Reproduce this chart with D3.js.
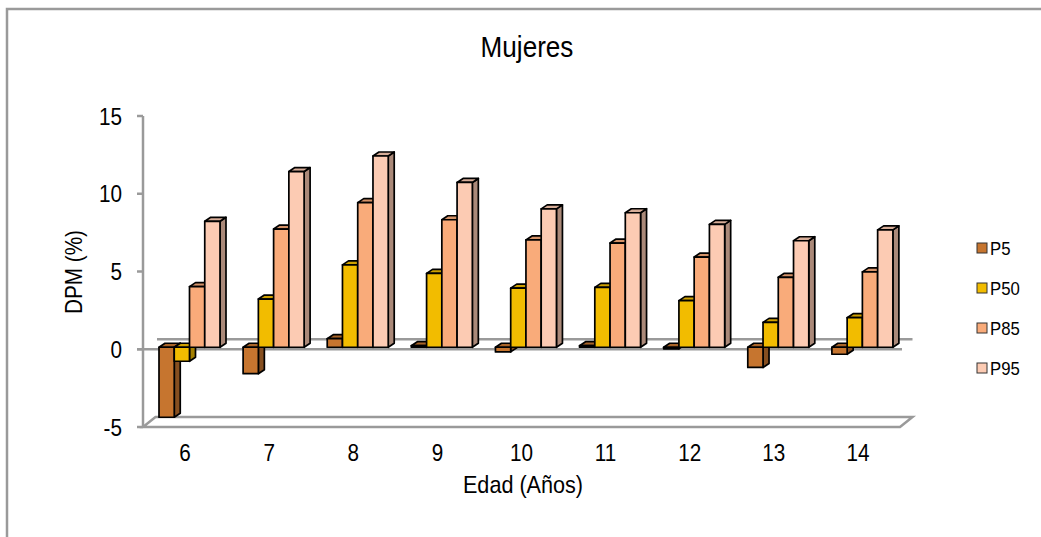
<!DOCTYPE html>
<html>
<head>
<meta charset="utf-8">
<script src="https://cdn.jsdelivr.net/npm/d3@7"></script>
<style>
  html, body { margin: 0; padding: 0; background: #fff; }
  svg { display: block; }
  text { font-family: "Liberation Sans", Arial, sans-serif; fill: #000; }
</style>
</head>
<body>
<script>
// Ages (categories)
const ages = ["6", "7", "8", "9", "10", "11", "12", "13", "14"];
// Percentile series
const seriesNames = ["P5", "P50", "P85", "P95"];
const p5  = [-4.5, -1.7, 0.55, 0.1, -0.3, 0.1, -0.1, -1.3, -0.45];
const p50 = [-0.9, 3.1, 5.3, 4.75, 3.8, 3.85, 3.0, 1.6, 1.9];
const p85 = [3.9, 7.6, 9.3, 8.2, 6.9, 6.7, 5.8, 4.5, 4.85];
const p95 = [8.1, 11.3, 12.3, 10.6, 8.9, 8.65, 7.9, 6.85, 7.55];
const yTicks = [-5, 0, 5, 10, 15];
const colors = ["#C6752F", "#F2BC00", "#F9AB7A", "#FCCBB3"];

const seriesValues = [p5, p50, p85, p95];

const W = 1041, H = 537;
const svg = d3.select("body").append("svg").attr("width", W).attr("height", H);

const GRAY = "#9a9a9a";
const SX = 0.9; // horizontal squeeze of the lettering

function place(sel, x, y, sx = SX) {
  return sel.attr("transform", `translate(${x},${y}) scale(${sx},1)`);
}

// outer frame (top and left edges)
svg.append("path")
  .attr("d", `M7,${H} L7,9 L${W},9`)
  .attr("fill", "none").attr("stroke", GRAY).attr("stroke-width", 2.5);

// scales
const x0 = d3.scaleBand().domain(ages).range([143, 900]).padding(0);
const y = d3.scaleLinear().domain([-5, 15]).range([427, 116]);
const groupOffset = 16, groupWidth = 61;
const x1 = d3.scaleBand().domain(seriesNames).range([0, groupWidth]).padding(0);

// 3D depth of the floor / walls
const DX = 12.5, DY = 10;
// bars stand slightly behind the front plane
const barShiftX = 0, barShiftY = -2;
// depth of each bar
const bdx = 6, bdy = 4;

const left = x0.range()[0], right = x0.range()[1];

// floor at the bottom of the value axis
const yFloor = y(-5);
svg.append("path")
  .attr("d", `M${left},${yFloor} L${right},${yFloor} L${right + DX},${yFloor - DY} L${left + DX},${yFloor - DY} Z`)
  .attr("fill", "none").attr("stroke", GRAY).attr("stroke-width", 2.5);

// zero reference lines (front and back)
const y0 = y(0);
svg.append("line").attr("x1", left - 6).attr("x2", right + 2).attr("y1", y0).attr("y2", y0)
  .attr("stroke", GRAY).attr("stroke-width", 2.5);
svg.append("line").attr("x1", left + 14).attr("x2", right + DX).attr("y1", y0 - DY).attr("y2", y0 - DY)
  .attr("stroke", GRAY).attr("stroke-width", 2.5);

// value axis
svg.append("line").attr("x1", left).attr("x2", left).attr("y1", y(15)).attr("y2", yFloor)
  .attr("stroke", GRAY).attr("stroke-width", 2.5);
const yTickG = svg.append("g");
yTicks.forEach(t => {
  yTickG.append("line").attr("x1", left - 6).attr("x2", left).attr("y1", y(t)).attr("y2", y(t))
    .attr("stroke", GRAY).attr("stroke-width", 2.5);
  place(yTickG.append("text"), 122, y(t) + 8.5)
    .attr("text-anchor", "end").attr("font-size", 23).text(t);
});

// bars
const barsG = svg.append("g");
ages.forEach((age, ci) => {
  seriesNames.forEach((s, si) => {
    const v = seriesValues[si][ci];
    const c = d3.color(colors[si]);
    const front = c.formatHex();
    const top = c.darker(0.45).formatHex();
    const side = c.darker(1.1).formatHex();
    const xa = x0(age) + groupOffset + x1(s) + barShiftX;
    const xb = xa + x1.bandwidth();
    const yTop = Math.min(y(v), y0) + barShiftY;
    const yBot = Math.max(y(v), y0) + barShiftY;
    const g = barsG.append("g").attr("stroke", "#000").attr("stroke-width", 1.7).attr("stroke-linejoin", "round");
    // right side face
    g.append("path")
      .attr("d", `M${xb},${yTop} L${xb + bdx},${yTop - bdy} L${xb + bdx},${yBot - bdy} L${xb},${yBot} Z`)
      .attr("fill", side);
    // top face
    g.append("path")
      .attr("d", `M${xa},${yTop} L${xa + bdx},${yTop - bdy} L${xb + bdx},${yTop - bdy} L${xb},${yTop} Z`)
      .attr("fill", top);
    // front face
    g.append("rect")
      .attr("x", xa).attr("y", yTop).attr("width", xb - xa).attr("height", Math.max(0.5, yBot - yTop))
      .attr("fill", front);
  });
});

// category labels
ages.forEach(a => {
  place(svg.append("text"), x0(a) + x0.bandwidth() / 2, 461)
    .attr("text-anchor", "middle").attr("font-size", 23).text(a);
});

// titles
place(svg.append("text"), 527, 57).attr("text-anchor", "middle").attr("font-size", 29).text("Mujeres");
place(svg.append("text"), 523, 493).attr("text-anchor", "middle").attr("font-size", 24).text("Edad (Años)");
svg.append("text")
  .attr("transform", `translate(82,272) rotate(-90) scale(${SX},1)`)
  .attr("text-anchor", "middle").attr("font-size", 23).text("DPM (%)");

// legend
const legend = svg.append("g");
seriesNames.forEach((s, i) => {
  const ly = 248 + i * 40;
  legend.append("rect").attr("x", 977).attr("y", ly - 5).attr("width", 10).attr("height", 10)
    .attr("fill", colors[i]).attr("stroke", "#333").attr("stroke-width", 1);
  place(legend.append("text"), 990, ly + 6.5, 0.93).attr("font-size", 18).text(s);
});
</script>
</body>
</html>
